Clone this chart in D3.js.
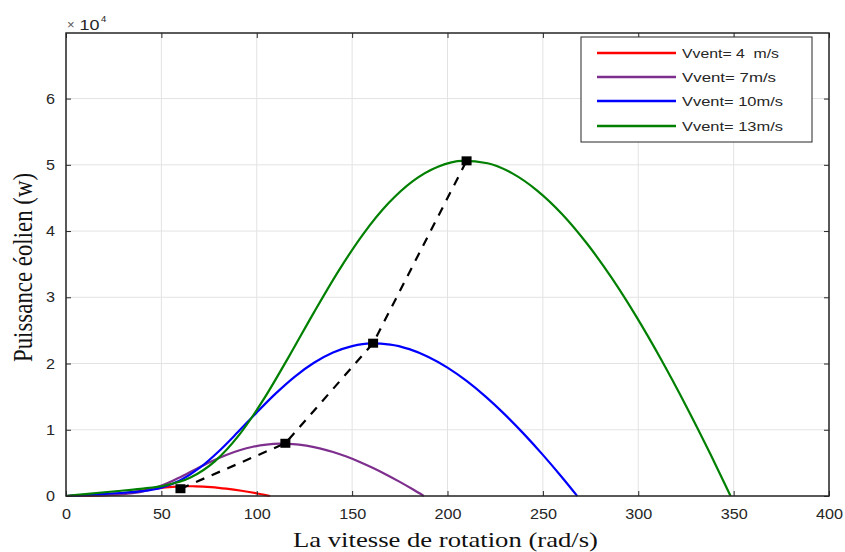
<!DOCTYPE html>
<html><head><meta charset="utf-8">
<script src="https://cdn.jsdelivr.net/npm/d3@7"></script>
<style>body{margin:0;background:#fff;} svg{display:block;}</style>
</head><body><svg id="c" width="845" height="552"></svg>
<script>
// ---- data ----
const xTicks = [0, 50, 100, 150, 200, 250, 300, 350, 400];
const yTicks = [0, 1, 2, 3, 4, 5, 6]; // ×10^4
const seriesLabels = ["Vvent= 4  m/s", "Vvent= 7m/s", "Vvent= 10m/s", "Vvent= 13m/s"];
const seriesColors = ["#ff0000", "#7e2f8e", "#0000ff", "#008000"];

const omega4 = [0,8,12,16,20,24,28,32,36,40,44,48,52,56,60,64,68,72,76,80,84,88,92,96,100,104,107];
const power4 = [0,21,32,46,80,152,271,430,615,808,991,1154,1287,1386,1448,1474,1464,1419,1343,1240,1111,960,789,600,397,181,0];

const omega7 = [0,14,21,28,35,42,49,56,63,70,77,84,91,98,105,112,119,126,133,140,147,154,161,168,175,182,187.6];
const power7 = [0,112,170,249,430,817,1452,2307,3298,4328,5313,6186,6898,7429,7763,7901,7843,7605,7200,6648,5957,5145,4226,3217,2129,971,0];

const omega10 = [0,20,30,40,50,60,70,80,90,100,110,120,130,140,150,160,170,180,190,200,210,220,230,240,250,260,268];
const power10 = [0,326,494,725,1253,2381,4234,6725,9614,12619,15490,18034,20112,21658,22632,23035,22867,22171,20990,19382,17366,15000,12322,9379,6206,2832,0];

const omega13 = [0,26,39,52,65,78,91,104,117,130,143,156,169,182,195,208,221,234,247,260,273,286,299,312,325,338,348.4];
const power13 = [0,717,1086,1592,2752,5231,9301,14774,21123,27724,34031,39620,44186,47582,49722,50609,50239,48710,46116,42583,38154,32955,27071,20606,13635,6222,0];

const mppOmega = [60, 115, 161, 210];
const mppPower = [1100, 7960, 23070, 50600];

const legendTextWidths = [97, 94, 101, 101];

// ---- drawing ----
const svg = d3.select("#c");
const L = 66, R = 829, T = 33, B = 496;
const x = d3.scaleLinear().domain([0, 400]).range([L, R]);
const y = d3.scaleLinear().domain([0, 69900]).range([B, T]);
const axisColor = "#262626";

svg.append("rect").attr("width", 845).attr("height", 552).attr("fill", "#fff");
svg.append("rect").attr("x", L).attr("y", T).attr("width", R - L).attr("height", B - T).attr("fill", "#fff");

// grid
const grid = svg.append("g").attr("stroke", "#e3e3e3").attr("stroke-width", 1);
grid.selectAll(".gx").data(xTicks).join("line")
  .attr("x1", d => x(d)).attr("x2", d => x(d)).attr("y1", T).attr("y2", B);
grid.selectAll(".gy").data(yTicks).join("line")
  .attr("x1", L).attr("x2", R).attr("y1", d => y(d * 1e4)).attr("y2", d => y(d * 1e4));

// curves
const series = [
  {o: omega4, p: power4},
  {o: omega7, p: power7},
  {o: omega10, p: power10},
  {o: omega13, p: power13}
];
const line = d3.line().x(d => x(d[0])).y(d => y(d[1])).curve(d3.curveMonotoneX);
series.forEach((s, i) => {
  svg.append("path")
    .datum(s.o.map((o, j) => [o, s.p[j]]))
    .attr("d", line)
    .attr("fill", "none")
    .attr("stroke", seriesColors[i])
    .attr("stroke-width", 2.2);
});

// MPPT dashed path + markers
const mpp = mppOmega.map((o, j) => [o, mppPower[j]]);
svg.append("path").datum(mpp)
  .attr("d", d3.line().x(d => x(d[0])).y(d => y(d[1])))
  .attr("fill", "none").attr("stroke", "#000").attr("stroke-width", 2.2)
  .attr("stroke-dasharray", "9,8");
svg.selectAll(".mk").data(mpp).join("rect")
  .attr("x", d => x(d[0]) - 5).attr("y", d => y(d[1]) - 4.5)
  .attr("width", 10).attr("height", 9).attr("fill", "#000");

// axes
function styleAxis(g) {
  g.select(".domain").remove();
  g.selectAll(".tick line").attr("stroke", axisColor).attr("stroke-width", 1);
  g.selectAll("text").attr("fill", axisColor)
    .style("font-family", "'Liberation Sans', Arial, sans-serif").style("font-size", "14px")
    .attr("lengthAdjust", "spacingAndGlyphs")
    .attr("textLength", function() { return 9 * this.textContent.length; });
}
svg.append("g").attr("transform", `translate(0,${B})`)
  .call(d3.axisBottom(x).tickValues(xTicks).tickSize(-5).tickPadding(13).tickFormat(d3.format("d")))
  .call(styleAxis);
svg.append("g").attr("transform", `translate(0,${T})`)
  .call(d3.axisTop(x).tickValues(xTicks).tickSize(-5).tickFormat(""))
  .call(styleAxis);
svg.append("g").attr("transform", `translate(${L},0)`)
  .call(d3.axisLeft(y).tickValues(yTicks.map(v => v * 1e4)).tickSize(-5).tickPadding(11).tickFormat(d => d / 1e4))
  .call(styleAxis);
svg.append("g").attr("transform", `translate(${R},0)`)
  .call(d3.axisRight(y).tickValues(yTicks.map(v => v * 1e4)).tickSize(-5).tickFormat(""))
  .call(styleAxis);

// box
svg.append("rect").attr("x", L).attr("y", T).attr("width", R - L).attr("height", B - T)
  .attr("fill", "none").attr("stroke", axisColor).attr("stroke-width", 1.5);

// exponent label
const ex = svg.append("g").attr("fill", axisColor).style("font-family", "'Liberation Sans', Arial, sans-serif");
ex.append("text").attr("x", 67).attr("y", 29).style("font-size", "13px").attr("fill", "#555").text("×");
ex.append("text").attr("x", 79.5).attr("y", 29.5).style("font-size", "14px")
  .attr("textLength", 20).attr("lengthAdjust", "spacingAndGlyphs").text("10");
ex.append("text").attr("x", 101).attr("y", 22).style("font-size", "9.5px").text("4");

// axis titles
svg.append("text").attr("x", 445.5).attr("y", 546.5).attr("text-anchor", "middle")
  .style("font-family", "'Liberation Serif', 'Times New Roman', serif").style("font-size", "22px")
  .attr("fill", "#111")
  .attr("textLength", 305).attr("lengthAdjust", "spacingAndGlyphs")
  .text("La vitesse de rotation (rad/s)");
svg.append("text").attr("text-anchor", "middle")
  .attr("transform", "translate(31.5,267.5) rotate(-90) scale(1,1.21)")
  .style("font-family", "'Liberation Serif', 'Times New Roman', serif").style("font-size", "22px")
  .attr("fill", "#111")
  .attr("textLength", 189).attr("lengthAdjust", "spacingAndGlyphs")
  .text("Puissance éolien (w)");

// legend
const lg = svg.append("g");
lg.append("rect").attr("x", 581).attr("y", 37).attr("width", 231).attr("height", 105)
  .attr("fill", "#fff").attr("stroke", axisColor).attr("stroke-width", 1);
const rowsY = [53, 77, 101, 126];
seriesLabels.forEach((lab, i) => {
  lg.append("line").attr("x1", 597).attr("x2", 676).attr("y1", rowsY[i]).attr("y2", rowsY[i])
    .attr("stroke", seriesColors[i]).attr("stroke-width", 2.5);
  lg.append("text").attr("x", 682).attr("y", rowsY[i] + 5)
    .style("font-family", "'Liberation Sans', Arial, sans-serif").style("font-size", "13.5px")
    .style("white-space", "pre").attr("fill", axisColor)
    .attr("textLength", legendTextWidths[i]).attr("lengthAdjust", "spacingAndGlyphs")
    .text(lab);
});
</script></body></html>
